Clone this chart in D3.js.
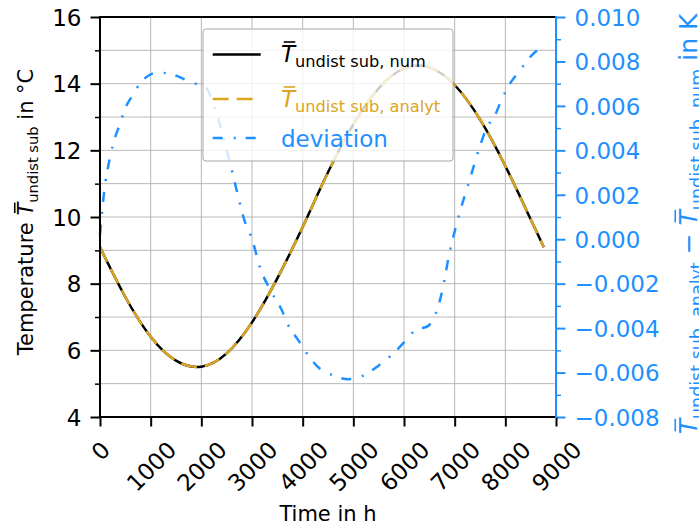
<!DOCTYPE html>
<html><head><meta charset="utf-8">
<script src="https://cdn.jsdelivr.net/npm/d3@7"></script>
<style>
html,body{margin:0;padding:0;background:#fff;}
svg{display:block;font-family:"DejaVu Sans",sans-serif;}
</style></head><body>
<svg id="chart" width="699" height="528"></svg>
<script>
// ---- data ----
const timeH = [0,500,1000,1500,2000,2500,3000,3500,4000,4500,5000,5500,6000,6500,7000,7500,8000,8500,8760];
const tempNum = [9.09,7.60,6.41,5.69,5.51,5.91,6.84,8.16,9.70,11.34,12.78,13.86,14.46,14.49,13.96,12.93,11.53,9.93,9.09];
const tempAnalyt = [9.09,7.60,6.41,5.69,5.51,5.91,6.84,8.16,9.70,11.34,12.78,13.86,14.46,14.49,13.96,12.93,11.53,9.93,9.09];
const devTime = [0,80,200,300,380,500,650,820,1140,1450,1760,2000,2100,2250,2400,2570,2730,2830,3030,3120,3390,3590,3700,3930,4070,4280,4570,4900,5230,5490,5760,6020,6220,6480,6570,6650,6810,6880,6940,7100,7300,7500,7630,7800,7930,8090,8290,8490,8740];
const devValues = [0.0002,0.0021,0.0037,0.0046,0.0051,0.0059,0.0065,0.0071,0.0075,0.0074,0.0071,0.0069,0.0068,0.0060,0.0049,0.0034,0.0019,0.0010,-0.0002,-0.0010,-0.0024,-0.0032,-0.0038,-0.0046,-0.0051,-0.0057,-0.0061,-0.0063,-0.0061,-0.0057,-0.0052,-0.0046,-0.0041,-0.0039,-0.0036,-0.0032,-0.0017,-0.0008,-0.0002,0.0012,0.0027,0.0042,0.0050,0.0056,0.0063,0.0070,0.0076,0.0082,0.0087];
const xTicks = [0,1000,2000,3000,4000,5000,6000,7000,8000,9000];
const leftTicks = [4,6,8,10,12,14,16];
const leftMinor = [5,7,9,11,13,15];
const rightTicks = [-0.008,-0.006,-0.004,-0.002,0,0.002,0.004,0.006,0.008,0.010];
const rightMinor = [-0.007,-0.005,-0.003,-0.001,0.001,0.003,0.005,0.007,0.009];
const gridY = [4,5,6,7,8,9,10,11,12,13,14,15,16];

// ---- layout ----
const L = 100, R = 556, T = 17, B = 417;
const BLUE = "#1E90FF", GOLD = "#DAA520";
const FT = 23; // tick font

const svg = d3.select("#chart");
const x = d3.scaleLinear().domain([0,9000]).range([L,R]);
const yL = d3.scaleLinear().domain([4,16]).range([B,T]);
const yR = d3.scaleLinear().domain([-0.008,0.010]).range([B,T]);

// grid
const grid = svg.append("g").attr("stroke","#b0b0b0").attr("stroke-width",0.9);
grid.selectAll("line.v").data(xTicks).join("line")
  .attr("x1",d=>x(d)).attr("x2",d=>x(d)).attr("y1",T).attr("y2",B);
grid.selectAll("line.h").data(gridY).join("line")
  .attr("x1",L).attr("x2",R).attr("y1",d=>yL(d)).attr("y2",d=>yL(d));

// lines
const numData = timeH.map((t,i)=>[t,tempNum[i]]);
const anaData = timeH.map((t,i)=>[t,tempAnalyt[i]]);
const devData = devTime.map((t,i)=>[t,devValues[i]]);
const lineL = d3.line().x(d=>x(d[0])).y(d=>yL(d[1])).curve(d3.curveNatural);
const lineR = d3.line().x(d=>x(d[0])).y(d=>yR(d[1])).curve(d3.curveMonotoneX);
svg.append("path").attr("d",lineL(numData)).attr("fill","none").attr("stroke","#000").attr("stroke-width",2.5);
svg.append("path").attr("d",lineL(anaData)).attr("fill","none").attr("stroke",GOLD).attr("stroke-width",2.5).attr("stroke-dasharray","16,8");
svg.append("path").attr("d",lineR(devData)).attr("fill","none").attr("stroke",BLUE).attr("stroke-width",2.5).attr("stroke-dasharray","10,11,2,10");

// math label helper
function mathLabel(g, parts, F, S, shiftAmt, color, anchor){
  const text = g.append("text").attr("fill",color).style("font-size",F+"px").style("white-space","pre");
  let shift = 0; const bars = [];
  parts.forEach(p=>{
    const ts = text.append("tspan").text(p.t);
    let dy = 0;
    if (p.sub && shift===0){ dy = shiftAmt; shift = shiftAmt; }
    else if (!p.sub && shift!==0){ dy = -shift; shift = 0; }
    if (dy) ts.attr("dy", dy);
    if (p.sub) ts.style("font-size", S+"px");
    if (p.it) ts.style("font-style","italic");
    if (p.bar) bars.push(ts);
  });
  const w = text.node().getComputedTextLength();
  if (anchor==="middle") text.attr("x", -w/2);
  bars.forEach(ts=>{
    const s = ts.node().getStartPositionOfChar(0);
    g.append("line").attr("x1", s.x+0.12*F).attr("x2", s.x+0.62*F)
      .attr("y1", s.y-0.87*F).attr("y2", s.y-0.87*F)
      .attr("stroke", color).attr("stroke-width", 1.6);
  });
  return text;
}

// legend
const leg = svg.append("g");
leg.append("rect").attr("x",203).attr("y",29).attr("width",250).attr("height",132).attr("rx",3)
  .attr("fill","#fff").attr("fill-opacity",0.8).attr("stroke","#a8a8a8").attr("stroke-width",1);
const legItems = [
  {y:54.5, color:"#000", dash:null, base:62, parts:[{t:"T",it:true,bar:true},{t:"undist sub, num",sub:true}]},
  {y:99, color:GOLD, dash:"16,8", base:107, parts:[{t:"T",it:true,bar:true},{t:"undist sub, analyt",sub:true}]},
  {y:138, color:BLUE, dash:"10,11,2,10", base:146.5, parts:[{t:"deviation"}]}
];
legItems.forEach(it=>{
  leg.append("line").attr("x1",212.7).attr("x2",260.7).attr("y1",it.y).attr("y2",it.y)
    .attr("stroke",it.color).attr("stroke-width",2.5).attr("stroke-dasharray",it.dash);
  const g = leg.append("g").attr("transform",`translate(281,${it.base})`);
  mathLabel(g, it.parts, 23, 16.2, 5, it.color, "start");
});

// axes
function styleAxis(g, color){
  g.select(".domain").remove();
  g.selectAll(".tick line").attr("stroke",color).attr("stroke-width",2);
  g.selectAll(".tick text").attr("fill",color).style("font-size",FT+"px").style("font-family","DejaVu Sans");
}
const gL = svg.append("g").attr("transform",`translate(${L},0)`)
  .call(d3.axisLeft(yL).tickValues(leftTicks).tickSize(9.5).tickPadding(9).tickFormat(d3.format("d")));
styleAxis(gL,"#000"); gL.selectAll(".tick text").attr("dy","0.36em");
const gLm = svg.append("g").attr("transform",`translate(${L},0)`)
  .call(d3.axisLeft(yL).tickValues(leftMinor).tickSize(5).tickFormat(""));
gLm.select(".domain").remove(); gLm.selectAll(".tick line").attr("stroke","#000").attr("stroke-width",1.5);

const gR = svg.append("g").attr("transform",`translate(${R},0)`)
  .call(d3.axisRight(yR).tickValues(rightTicks).tickSize(9.5).tickPadding(9).tickFormat(d3.format(".3f")));
styleAxis(gR,BLUE); gR.selectAll(".tick text").attr("dy","0.36em");
const gRm = svg.append("g").attr("transform",`translate(${R},0)`)
  .call(d3.axisRight(yR).tickValues(rightMinor).tickSize(5).tickFormat(""));
gRm.select(".domain").remove(); gRm.selectAll(".tick line").attr("stroke",BLUE).attr("stroke-width",1.5);

const gB = svg.append("g").attr("transform",`translate(0,${B})`)
  .call(d3.axisBottom(x).tickValues(xTicks).tickSize(9.5).tickFormat(d3.format("d")));
styleAxis(gB,"#000");
gB.selectAll(".tick text").each(function(){
  const t = d3.select(this);
  t.attr("dy",null).attr("text-anchor","middle");
  const w = this.getComputedTextLength() - 0.17*FT;
  const capH = 0.729*FT;
  const diag = (w+capH)*Math.SQRT1_2;
  const cy = (441 - B) + diag/2;
  t.attr("x",0).attr("y",capH/2).attr("transform",`translate(0,${cy}) rotate(-45)`);
});

// spines
const sp = svg.append("g").attr("stroke-width",2).attr("stroke-linecap","square");
sp.append("line").attr("x1",L).attr("x2",R).attr("y1",T).attr("y2",T).attr("stroke","#000");
sp.append("line").attr("x1",L).attr("x2",R).attr("y1",B).attr("y2",B).attr("stroke","#000");
sp.append("line").attr("x1",L).attr("x2",L).attr("y1",T).attr("y2",B).attr("stroke","#000");
sp.append("line").attr("x1",R).attr("x2",R).attr("y1",T).attr("y2",B).attr("stroke",BLUE);

// axis labels
svg.append("text").attr("x",(L+R)/2).attr("y",521).attr("text-anchor","middle")
  .style("font-size","21px").attr("fill","#000").text("Time in h");
const gly = svg.append("g").attr("transform","translate(33,212) rotate(-90)");
mathLabel(gly, [{t:"Temperature "},{t:"T",it:true,bar:true},{t:"undist sub",sub:true},{t:" in °C"}], 21, 14.7, 4.5, "#000", "middle");
const gry = svg.append("g").attr("transform","translate(697,224) rotate(-90)");
mathLabel(gry, [{t:"T",it:true,bar:true},{t:"undist sub, analyt",sub:true},{t:" − "},{t:"T",it:true,bar:true},{t:"undist sub, num",sub:true},{t:" in K"}], 25, 17.5, 5.5, BLUE, "middle");
</script>
</body></html>
